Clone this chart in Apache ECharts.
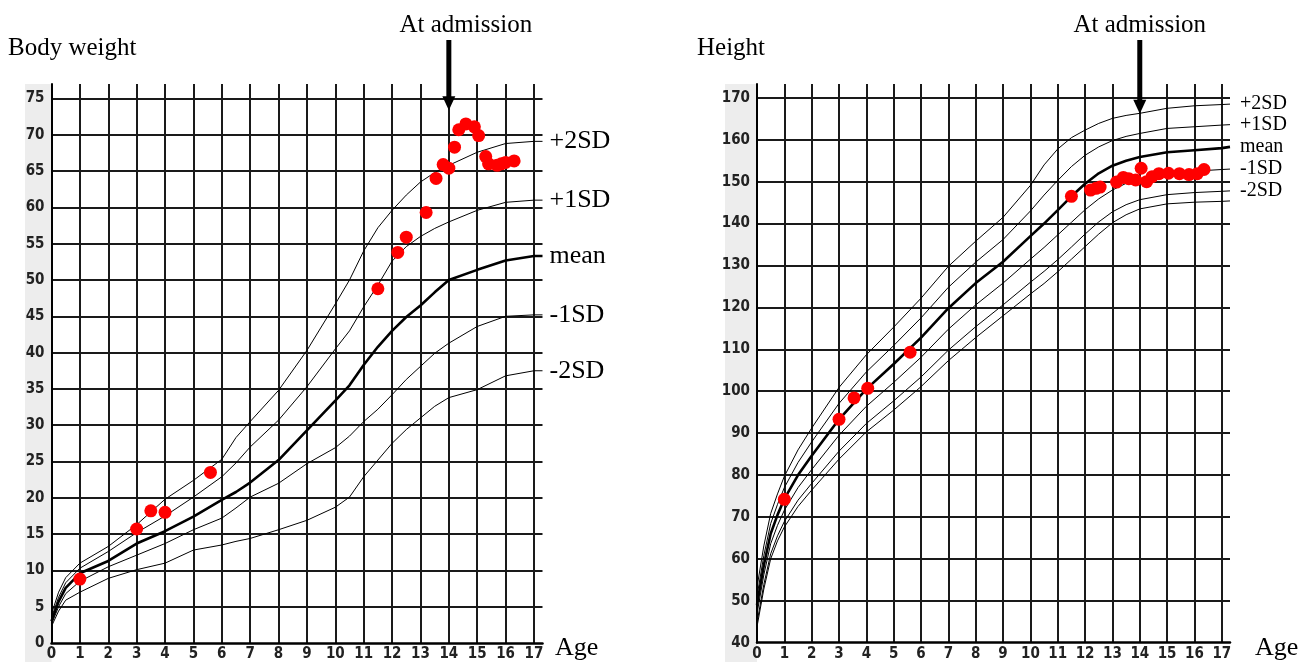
<!DOCTYPE html>
<html><head><meta charset="utf-8">
<script src="https://cdn.jsdelivr.net/npm/echarts@6/dist/echarts.min.js"></script>
<style>html,body{margin:0;padding:0;background:#fff}#c{width:1306px;height:662px}</style>
</head><body><div id="c"></div>
<script>
// ---------- Body weight (kg) ----------
const weightAges  = [0, 0.25, 0.5, 1, 2, 3, 4, 5, 6, 6.5, 7, 8, 9, 10, 10.5, 11, 11.5, 12, 12.5, 13, 13.5, 14, 15, 16, 17, 17.3];
const weightP2SD  = [4.0, 7.0, 9.0, 11.0, 13.3, 16.3, 19.8, 22.4, 25.3, 28.3, 30.5, 34.8, 40.3, 46.7, 50.0, 54.0, 57.2, 59.6, 61.7, 63.5, 64.8, 65.8, 67.6, 68.8, 69.1, 69.1];
const weightP1SD  = [3.5, 6.3, 8.3, 10.3, 12.6, 15.2, 17.5, 20.1, 22.9, 24.8, 27.0, 30.7, 35.3, 40.5, 43.0, 46.3, 49.3, 52.6, 54.6, 56.0, 57.1, 58.0, 59.6, 60.7, 61.0, 61.0];
const weightMean  = [3.0, 5.7, 7.6, 9.6, 11.3, 13.7, 15.4, 17.4, 19.7, 20.8, 22.1, 25.2, 29.3, 33.4, 35.5, 38.3, 40.8, 43.0, 44.9, 46.5, 48.3, 50.0, 51.4, 52.7, 53.3, 53.3];
const weightM1SD  = [2.6, 5.0, 6.8, 8.5, 10.5, 12.1, 13.7, 15.6, 17.2, 18.6, 20.1, 22.0, 24.7, 26.9, 28.5, 30.5, 32.2, 34.2, 36.3, 38.1, 39.9, 41.3, 43.6, 45.0, 45.2, 45.2];
const weightM2SD  = [2.3, 4.4, 5.9, 7.0, 8.9, 10.1, 11.0, 12.8, 13.5, 14.0, 14.4, 15.6, 16.9, 18.7, 20.1, 22.9, 25.2, 27.5, 29.4, 31.0, 32.6, 33.8, 34.9, 36.8, 37.5, 37.5];
const weightObsAge = [1.0, 3.0, 3.5, 4.0, 5.6, 11.5, 12.2, 12.5, 13.2, 13.55, 13.8, 14.0, 14.2, 14.35, 14.6, 14.9, 15.05, 15.3, 15.4, 15.7, 15.85, 16.0, 16.3];
const weightObsVal = [8.8, 15.7, 18.2, 18.0, 23.5, 48.8, 53.8, 55.9, 59.3, 64.0, 65.9, 65.4, 68.3, 70.7, 71.5, 71.1, 69.9, 67.0, 66.0, 65.8, 66.0, 66.2, 66.4];

// ---------- Height (cm) ----------
const heightAges  = [0, 0.25, 0.5, 0.75, 1, 1.5, 2, 3, 4, 5, 6, 7, 8, 9, 10, 10.5, 11, 11.5, 12, 12.5, 13, 13.5, 14, 15, 16, 17, 17.3];
const heightP2SD  = [53.2, 63.1, 70.8, 75.5, 79.7, 86.0, 91.2, 100.9, 108.7, 115.3, 122.2, 129.8, 135.8, 141.5, 149.1, 154.0, 157.8, 160.5, 162.3, 163.9, 165.1, 165.8, 166.3, 167.5, 168.1, 168.4, 168.5];
const heightP1SD  = [51.1, 60.8, 68.4, 73.0, 77.0, 83.0, 87.9, 97.1, 104.6, 110.9, 117.5, 124.8, 130.8, 136.2, 143.0, 146.8, 150.3, 153.6, 156.3, 158.3, 159.8, 160.8, 161.5, 162.7, 163.1, 163.5, 163.6];
const heightMean  = [49.0, 58.5, 66.0, 70.5, 74.3, 80.0, 84.6, 93.3, 100.5, 106.5, 112.8, 119.8, 125.8, 130.9, 137.0, 140.0, 143.2, 146.5, 149.5, 152.0, 153.8, 155.0, 155.9, 157.0, 157.5, 158.0, 158.3];
const heightM1SD  = [46.9, 56.2, 63.6, 68.0, 71.6, 77.0, 81.3, 89.5, 96.4, 102.1, 108.1, 114.8, 120.6, 125.8, 131.5, 134.3, 137.3, 140.3, 143.3, 145.9, 148.0, 149.6, 150.7, 151.9, 152.5, 152.9, 153.0];
const heightM2SD  = [44.8, 53.9, 61.2, 65.5, 68.9, 74.0, 78.0, 85.7, 92.3, 97.7, 103.4, 109.8, 115.4, 120.6, 126.0, 128.6, 131.4, 134.4, 137.5, 140.4, 142.8, 144.5, 145.7, 146.9, 147.4, 147.7, 147.8];
const heightM25SD = [43.8, 52.8, 60.0, 64.3, 67.6, 72.5, 76.4, 83.8, 90.3, 95.5, 101.1, 107.3, 112.8, 118.0, 123.2, 125.7, 128.5, 131.5, 134.5, 137.5, 140.2, 142.1, 143.5, 144.7, 145.1, 145.3, 145.4];
const heightObsAge = [1.0, 3.0, 3.55, 4.05, 5.6, 11.5, 12.2, 12.4, 12.55, 13.15, 13.4, 13.6, 13.85, 14.05, 14.25, 14.45, 14.7, 15.05, 15.45, 15.8, 16.1, 16.35];
const heightObsVal = [74.2, 93.3, 98.4, 100.7, 109.3, 146.5, 148.0, 148.4, 148.7, 149.9, 151.0, 150.7, 150.4, 153.2, 150.0, 151.2, 151.9, 152.0, 151.9, 151.7, 151.9, 152.9];

// ---------- annotations ----------
const admissionAge = 14;
const weightArrowTip = 73.4;
const heightArrowTip = 166.2;

const pairs = (xs, ys) => xs.map((x, i) => [x, ys[i]]);
const tickFont = "'Liberation Sans Narrow','DejaVu Sans Condensed','Arial Narrow',sans-serif";
const serif = "'Liberation Serif','Times New Roman',serif";

function curve(name, xs, ys, idx, thick, label, fs, dist) {
  return {
    type: 'line', name, xAxisIndex: idx, yAxisIndex: idx,
    data: pairs(xs, ys), showSymbol: false, symbol: 'none', smooth: false,
    lineStyle: { color: '#000', width: thick ? 2.6 : 1 },
    silent: true, z: 3,
    endLabel: label ? { show: true, formatter: label, color: '#000', fontFamily: serif, fontSize: fs, distance: dist } : { show: false }
  };
}
function xAx(idx) {
  return {
    type: 'value', gridIndex: idx, min: 0, max: 17.3, interval: 1,
    axisLine: { show: true, lineStyle: { color: '#000', width: 2.5 } },
    axisTick: { show: false },
    splitLine: { show: true, showMinLine: true, showMaxLine: false, lineStyle: { color: '#1a1a1a', width: 2 } },
    axisLabel: { formatter: v => Number.isInteger(v) ? String(v) : '', fontFamily: tickFont, fontSize: 15, fontWeight: 'bold', color: '#222', margin: 4 }
  };
}
function yAx(idx, min, max, step) {
  return {
    type: 'value', gridIndex: idx, min, max, interval: step,
    axisLine: { show: true, lineStyle: { color: '#000', width: 2 } },
    axisTick: { show: false },
    splitLine: { show: true, showMinLine: false, showMaxLine: false, lineStyle: { color: '#1a1a1a', width: 2 } },
    axisLabel: { formatter: v => (Math.abs(v % step) < 1e-6) ? String(v) : '', fontFamily: tickFont, fontSize: 15, fontWeight: 'bold', color: '#222', margin: 7 }
  };
}

const chart = echarts.init(document.getElementById('c'), null, { renderer: 'canvas' });
chart.setOption({
  animation: false,
  backgroundColor: '#fff',
  grid: [
    { left: 51.5, top: 84, width: 491, height: 559.5 },
    { left: 757, top: 84, width: 473, height: 558.7 }
  ],
  xAxis: [xAx(0), xAx(1)],
  yAxis: [yAx(0, 0, 77, 5), yAx(1, 40, 173.3, 10)],
  series: [
    curve('+2SD', weightAges, weightP2SD, 0, false, '+2SD', 26, 7),
    curve('+1SD', weightAges, weightP1SD, 0, false, '+1SD', 26, 7),
    curve('mean', weightAges, weightMean, 0, true, 'mean', 26, 7),
    curve('-1SD', weightAges, weightM1SD, 0, false, '-1SD', 26, 7),
    curve('-2SD', weightAges, weightM2SD, 0, false, '-2SD', 26, 7),
    { type: 'scatter', xAxisIndex: 0, yAxisIndex: 0, data: pairs(weightObsAge, weightObsVal),
      symbolSize: 13, itemStyle: { color: '#ff0000', opacity: 1 }, z: 5, silent: true },
    curve('+2SD', heightAges, heightP2SD, 1, false, '+2SD', 20, 10),
    curve('+1SD', heightAges, heightP1SD, 1, false, '+1SD', 20, 10),
    curve('mean', heightAges, heightMean, 1, true, 'mean', 20, 10),
    curve('-1SD', heightAges, heightM1SD, 1, false, '-1SD', 20, 10),
    curve('-2SD', heightAges, heightM2SD, 1, false, '-2SD', 20, 10),
    curve('-2.5SD', heightAges, heightM25SD, 1, false, null),
    { type: 'scatter', xAxisIndex: 1, yAxisIndex: 1, data: pairs(heightObsAge, heightObsVal),
      symbolSize: 13, itemStyle: { color: '#ff0000', opacity: 1 }, z: 5, silent: true }
  ]
});

function arrow(p) {
  const x = p[0], tip = p[1], top = 40;
  return [
    { type: 'rect', shape: { x: x - 2.5, y: top, width: 5, height: tip - 14 - top + 1 }, style: { fill: '#000' }, z: 10 },
    { type: 'polygon', shape: { points: [[x - 6.5, tip - 14], [x + 6.5, tip - 14], [x, tip]] }, style: { fill: '#000' }, z: 10 }
  ];
}
const pW = chart.convertToPixel({ xAxisIndex: 0, yAxisIndex: 0 }, [admissionAge, weightArrowTip]);
const pH = chart.convertToPixel({ xAxisIndex: 1, yAxisIndex: 1 }, [admissionAge, heightArrowTip]);
const txt = (x, y, text, size, align) => ({ type: 'text', x, y, z: 10,
  style: { text, fill: '#000', font: size + 'px ' + serif, textAlign: align || 'left', textVerticalAlign: 'middle' } });

chart.setOption({
  graphic: [
    { type: 'rect', shape: { x: 25, y: 84, width: 26.5, height: 578 }, style: { fill: '#ededed' }, z: -10, silent: true },
    { type: 'rect', shape: { x: 725, y: 84, width: 32, height: 578 }, style: { fill: '#ededed' }, z: -10, silent: true },
    txt(8, 48, 'Body weight', 25),
    txt(697, 48, 'Height', 25),
    txt(pW[0] + 17, 25, 'At admission', 25, 'center'),
    txt(pH[0], 25, 'At admission', 25, 'center'),
    txt(555, 648, 'Age', 26),
    txt(1255, 648, 'Age', 26),
    ...arrow(pW),
    ...arrow(pH)
  ]
});
</script>
</body></html>
